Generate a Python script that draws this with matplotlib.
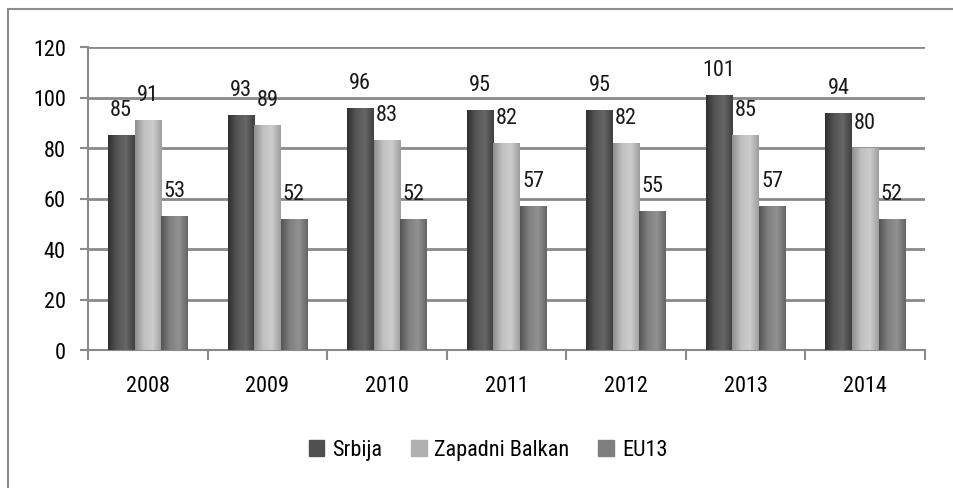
import numpy as np
import matplotlib.pyplot as plt
from matplotlib.colors import LinearSegmentedColormap
from matplotlib.patches import Rectangle
from matplotlib import font_manager

# narrow Calibri-like font if one is around
names = {f.name for f in font_manager.fontManager.ttflist}
fam = next((n for n in ['Liberation Sans Narrow', 'Roboto Condensed', 'Open Sans Condensed', 'Lato']
            if n in names), 'DejaVu Sans')
plt.rcParams['font.family'] = [fam, 'DejaVu Sans']
fs = 16 if fam != 'Lato' else 15

years = ['2008', '2009', '2010', '2011', '2012', '2013', '2014']
series_names = ['Srbija', 'Zapadni Balkan', 'EU13']
srbija = [85, 93, 96, 95, 95, 101, 94]
zapadni_balkan = [91, 89, 83, 82, 82, 85, 80]
eu13 = [53, 52, 52, 57, 55, 57, 52]

# flat colour (legend) and shading stops left -> middle -> right
flat_colors = ['#505050', '#b0b0b0', '#7e7e7e']
shades = [['#303030', '#555555', '#666666', '#404040'],
          ['#8f8f8f', '#c0c0c0', '#cdcdcd', '#9e9e9e'],
          ['#545454', '#808080', '#919191', '#666666']]

grid_col = '#8a8a8a'

fig = plt.figure(figsize=(9.54, 4.89), dpi=100)
ax = fig.add_axes([88 / 954, 1 - 351 / 489, (925 - 88) / 954, (351 - 48) / 489])

# outer chart border (only left and top are visible)
fig.add_artist(plt.Line2D([8 / 954, 8 / 954], [0, 1 - 10 / 489], transform=fig.transFigure,
                          color='#8c8c8c', lw=1.5))
fig.add_artist(plt.Line2D([8 / 954, 1], [1 - 10 / 489, 1 - 10 / 489], transform=fig.transFigure,
                          color='#8c8c8c', lw=1.5))

x = np.arange(len(years))
w = 1 / 4.5
data = [srbija, zapadni_balkan, eu13]

for i, vals in enumerate(data):
    pos = x + (i - 1) * w
    bars = ax.bar(pos, vals, width=w, color=flat_colors[i], label=series_names[i],
                  zorder=3, linewidth=0)
    cmap = LinearSegmentedColormap.from_list('s%d' % i, shades[i])
    grad = np.linspace(0, 1, 64).reshape(1, -1)
    for b, v in zip(bars, vals):
        x0 = b.get_x()
        im = ax.imshow(grad, cmap=cmap, aspect='auto', zorder=3.5,
                       extent=[x0, x0 + w, 0, v], interpolation='bilinear')
        im.set_clip_path(b)
        ax.annotate(str(v), (b.get_x() + w / 2, v), xytext=(0, 14.4),
                    textcoords='offset points', ha='center', va='baseline',
                    fontsize=fs, color='#1a1a1a', zorder=2)

ax.set_xlim(-0.5, len(years) - 0.5)
ax.set_ylim(0, 120)
ax.set_yticks(range(0, 121, 20))
ax.set_xticks(x)
ax.set_xticklabels(years)
ax.set_xticks(np.arange(-0.5, len(years)), minor=True)
ax.tick_params(axis='x', which='major', length=0, pad=18, labelsize=fs)
ax.tick_params(axis='x', which='minor', length=7, width=1.5, color=grid_col)
ax.tick_params(axis='y', length=6, width=1.5, color=grid_col, pad=10, labelsize=fs)
ax.yaxis.grid(True, color=grid_col, lw=2)
ax.set_axisbelow(True)
for s in ['top', 'right']:
    ax.spines[s].set_visible(False)
for s in ['left', 'bottom']:
    ax.spines[s].set_color(grid_col)
    ax.spines[s].set_linewidth(1.5)

handles = [Rectangle((0, 0), 1, 1, color=c) for c in flat_colors]
fig.legend(handles, series_names, loc='center', bbox_to_anchor=(488 / 954, 1 - 451 / 489),
           ncol=3, frameon=False, fontsize=fs, handlelength=0.7, handleheight=0.7,
           handletextpad=0.35, columnspacing=1.3)

plt.savefig('out.png', dpi=100)
